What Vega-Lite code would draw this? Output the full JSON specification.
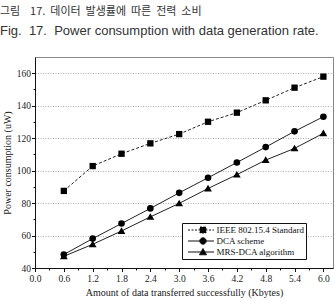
{
  "$schema": "https://vega.github.io/schema/vega-lite/v6.json",
  "width": 298,
  "height": 211,
  "autosize": {"type": "none"},
  "padding": {"left": 35, "top": 57, "right": 1, "bottom": 34},
  "title": {
    "text": "그림\u00a0\u00a0\u00a0\u00a017.\u00a0\u00a0데이터\u00a0\u00a0발생률에\u00a0\u00a0따른\u00a0\u00a0전력\u00a0\u00a0소비",
    "subtitle": "Fig.\u00a0\u00a017.\u00a0\u00a0Power consumption with data generation rate.",
    "anchor": "start",
    "frame": "group",
    "orient": "top",
    "offset": 19,
    "dx": -35,
    "font": "Noto Sans CJK KR",
    "fontSize": 11,
    "fontWeight": "normal",
    "color": "#333333",
    "subtitleFont": "Liberation Sans",
    "subtitleFontSize": 13,
    "subtitleColor": "#333333",
    "subtitlePadding": 8
  },
  "config": {
    "view": {"stroke": "#888888", "strokeWidth": 1},
    "axis": {
      "labelFont": "Liberation Serif",
      "titleFont": "Liberation Serif",
      "labelColor": "#222222",
      "titleColor": "#222222",
      "titleFontWeight": "normal",
      "domainColor": "#111111",
      "tickColor": "#111111",
      "labelFontSize": 9.5,
      "titleFontSize": 10
    },
    "legend": {
      "labelFont": "Liberation Serif",
      "labelFontSize": 9,
      "labelColor": "#111111"
    }
  },
  "data": {
    "values": [
      {"series": "IEEE 802.15.4 Standard", "kbytes": 0.6, "power": 87.5},
      {"series": "IEEE 802.15.4 Standard", "kbytes": 1.2, "power": 102.8},
      {"series": "IEEE 802.15.4 Standard", "kbytes": 1.8, "power": 110.4},
      {"series": "IEEE 802.15.4 Standard", "kbytes": 2.4, "power": 116.8},
      {"series": "IEEE 802.15.4 Standard", "kbytes": 3.0, "power": 122.5},
      {"series": "IEEE 802.15.4 Standard", "kbytes": 3.6, "power": 130.1},
      {"series": "IEEE 802.15.4 Standard", "kbytes": 4.2, "power": 135.7},
      {"series": "IEEE 802.15.4 Standard", "kbytes": 4.8, "power": 143.3},
      {"series": "IEEE 802.15.4 Standard", "kbytes": 5.4, "power": 151.1},
      {"series": "IEEE 802.15.4 Standard", "kbytes": 6.0, "power": 157.9},
      {"series": "DCA scheme", "kbytes": 0.6, "power": 48.3},
      {"series": "DCA scheme", "kbytes": 1.2, "power": 58.1},
      {"series": "DCA scheme", "kbytes": 1.8, "power": 67.4},
      {"series": "DCA scheme", "kbytes": 2.4, "power": 76.7},
      {"series": "DCA scheme", "kbytes": 3.0, "power": 86.3},
      {"series": "DCA scheme", "kbytes": 3.6, "power": 95.6},
      {"series": "DCA scheme", "kbytes": 4.2, "power": 105.0},
      {"series": "DCA scheme", "kbytes": 4.8, "power": 114.5},
      {"series": "DCA scheme", "kbytes": 5.4, "power": 124.2},
      {"series": "DCA scheme", "kbytes": 6.0, "power": 133.2},
      {"series": "MRS-DCA algorithm", "kbytes": 0.6, "power": 47.2},
      {"series": "MRS-DCA algorithm", "kbytes": 1.2, "power": 54.6},
      {"series": "MRS-DCA algorithm", "kbytes": 1.8, "power": 62.8},
      {"series": "MRS-DCA algorithm", "kbytes": 2.4, "power": 71.5},
      {"series": "MRS-DCA algorithm", "kbytes": 3.0, "power": 79.8},
      {"series": "MRS-DCA algorithm", "kbytes": 3.6, "power": 89.0},
      {"series": "MRS-DCA algorithm", "kbytes": 4.2, "power": 97.5},
      {"series": "MRS-DCA algorithm", "kbytes": 4.8, "power": 106.5},
      {"series": "MRS-DCA algorithm", "kbytes": 5.4, "power": 113.7},
      {"series": "MRS-DCA algorithm", "kbytes": 6.0, "power": 123.0}
    ]
  },
  "encoding": {
    "x": {
      "field": "kbytes",
      "type": "quantitative",
      "scale": {"domain": [0, 6.2], "nice": false, "zero": false},
      "axis": {
        "title": "Amount of data transferred successfully (Kbytes)",
        "values": [0, 0.3, 0.6, 0.9, 1.2, 1.5, 1.8, 2.1, 2.4, 2.7, 3.0, 3.3, 3.6, 3.9, 4.2, 4.5, 4.8, 5.1, 5.4, 5.7, 6.0],
        "labelExpr": "round(datum.value * 10) % 6 === 0 ? format(datum.value, '.1f') : ''",
        "tickSize": {"condition": {"test": "round(datum.value * 10) % 6 === 0", "value": 3.5}, "value": 2},
        "labelPadding": 2,
        "titlePadding": 4,
        "grid": false,
        "labelFlush": false,
        "labelOverlap": false
      }
    },
    "y": {
      "field": "power",
      "type": "quantitative",
      "scale": {"domain": [40, 170], "nice": false, "zero": false},
      "axis": {
        "title": "Power consumption (uW)",
        "values": [40, 50, 60, 70, 80, 90, 100, 110, 120, 130, 140, 150, 160],
        "labelExpr": "datum.value % 20 === 0 ? datum.value : ''",
        "tickSize": {"condition": {"test": "datum.value % 20 === 0", "value": 3.5}, "value": 2},
        "labelPadding": 1,
        "titlePadding": 4,
        "grid": true,
        "gridColor": "#999999",
        "gridDash": [1, 1.5],
        "gridWidth": 0.8,
        "gridOpacity": {"condition": {"test": "datum.value % 20 === 0 && datum.value > 40", "value": 1}, "value": 0},
        "labelFlush": false,
        "labelOverlap": false
      }
    }
  },
  "layer": [
    {
      "transform": [{"filter": "datum.series === 'IEEE 802.15.4 Standard'"}],
      "mark": {"type": "line", "color": "#222222", "strokeWidth": 1, "strokeDash": [3, 2]}
    },
    {
      "transform": [{"filter": "datum.series !== 'IEEE 802.15.4 Standard'"}],
      "mark": {"type": "line", "color": "#222222", "strokeWidth": 1},
      "encoding": {"detail": {"field": "series"}}
    },
    {
      "transform": [{"filter": "datum.series === 'IEEE 802.15.4 Standard'"}],
      "mark": {"type": "point", "shape": "square", "filled": true, "color": "#000000", "opacity": 1, "size": 40}
    },
    {
      "transform": [{"filter": "datum.series === 'DCA scheme'"}],
      "mark": {"type": "point", "shape": "circle", "filled": true, "color": "#000000", "opacity": 1, "size": 44}
    },
    {
      "transform": [{"filter": "datum.series === 'MRS-DCA algorithm'"}],
      "mark": {"type": "point", "shape": "M0,-1.15L1.2,0.9H-1.2Z", "filled": true, "color": "#000000", "opacity": 1, "size": 42}
    },
    {
      "mark": {"type": "point", "filled": true, "fill": "#000000", "stroke": "#111111", "strokeWidth": 1, "opacity": 0},
      "encoding": {
        "shape": {
          "field": "series",
          "type": "nominal",
          "scale": {
            "domain": ["IEEE 802.15.4 Standard", "DCA scheme", "MRS-DCA algorithm"],
            "range": [
              "M-3,0H2.2M-0.6,-0.6H0.6V0.6H-0.6Z",
              "M-3,0H2.2M-0.64,0A0.64,0.64 0 1,0 0.64,0A0.64,0.64 0 1,0 -0.64,0Z",
              "M-3,0H2.2M0,-0.7L0.72,0.55H-0.72Z"
            ]
          },
          "legend": {
            "title": null,
            "orient": "none",
            "legendX": 147,
            "legendY": 166,
            "padding": 1.5,
            "rowPadding": 0,
            "symbolSize": 100,
            "symbolOffset": 14,
            "labelOffset": 8,
            "symbolOpacity": 1,
            "symbolStrokeWidth": 1,
            "labelFont": "Liberation Serif",
            "labelFontSize": 9,
            "labelColor": "#111111",
            "strokeColor": "#111111",
            "fillColor": "#ffffff"
          }
        },
        "strokeDash": {
          "field": "series",
          "type": "nominal",
          "scale": {
            "domain": ["IEEE 802.15.4 Standard", "DCA scheme", "MRS-DCA algorithm"],
            "range": [[2, 1.5], [1, 0], [1, 0]]
          },
          "legend": {
            "title": null,
            "orient": "none",
            "legendX": 147,
            "legendY": 166,
            "padding": 1.5,
            "rowPadding": 0,
            "symbolSize": 100,
            "symbolOffset": 14,
            "labelOffset": 8,
            "symbolOpacity": 1,
            "symbolStrokeWidth": 1,
            "labelFont": "Liberation Serif",
            "labelFontSize": 9,
            "labelColor": "#111111",
            "strokeColor": "#111111",
            "fillColor": "#ffffff"
          }
        }
      }
    }
  ]
}
